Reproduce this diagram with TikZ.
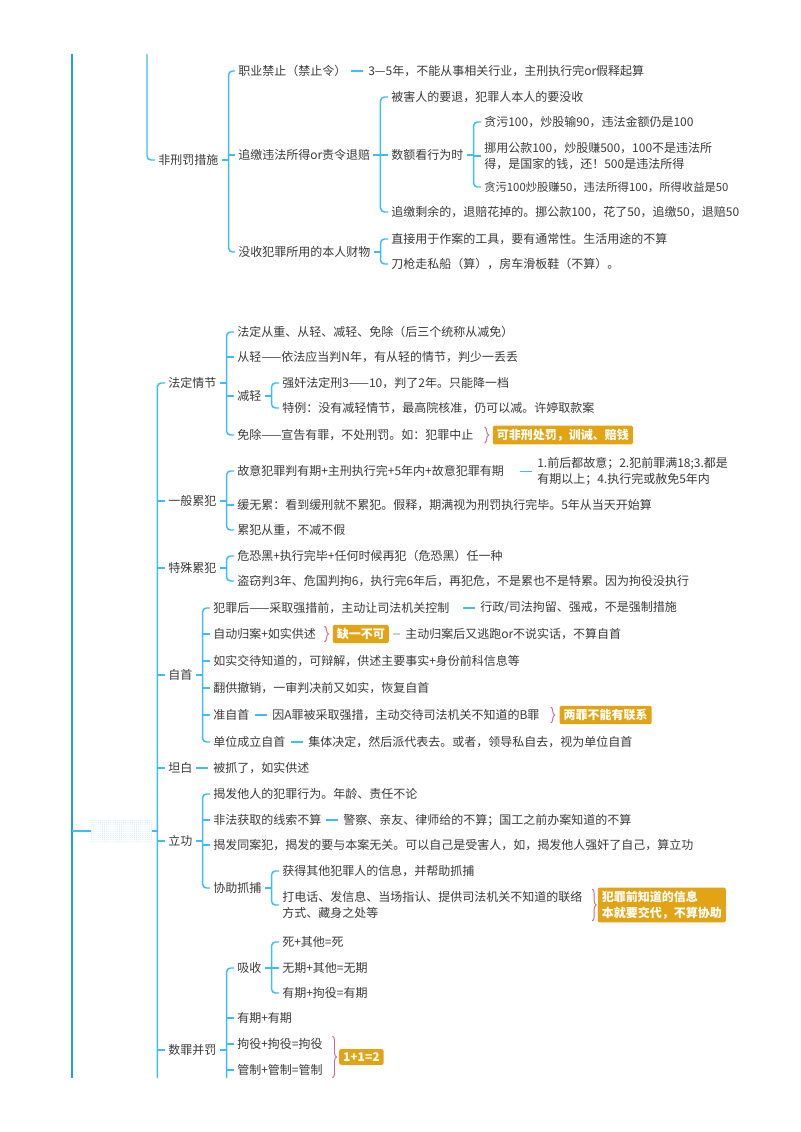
\documentclass[tikz,border=0pt]{standalone}
\usepackage{fontspec}
\setmainfont{Noto Sans CJK SC}
\usetikzlibrary{calc,decorations.pathreplacing,patterns.meta}
\definecolor{txt}{HTML}{3A3A3A}
\definecolor{lnk}{HTML}{3FBDF2}
\definecolor{lnkd}{HTML}{1E9FE3}
\definecolor{pinkb}{HTML}{D2678A}
\definecolor{gold}{HTML}{E2A415}
\definecolor{greyl}{HTML}{CFCFCF}
\definecolor{dotc}{HTML}{BFE8F8}
\newcommand{\forkm}[4]{%
  \draw[conn] (#1.east) -- ++(7,0) coordinate (#1-b);
  \draw[conn,rounded corners=3pt] (#2.west) -| (#1-b) |- (#3.west);
  \foreach \m in {#4}{\draw[conn] (#1-b |- \m.west) -- (\m.west);}
}
\newcommand{\forkt}[3]{%
  \draw[conn] (#1.east) -- ++(7,0) coordinate (#1-b);
  \draw[conn,rounded corners=3pt] (#2.west) -| (#1-b) |- (#3.west);
}
\newcommand{\inl}[2]{\draw[conn] ([xshift=-10.5pt]#2.west) -- ([xshift=-1.5pt]#2.west);}
\begin{document}
\begin{tikzpicture}[x=0.75pt,y=-0.75pt,
  t/.style={anchor=west,inner xsep=2.25pt,inner ysep=1.5pt,text=txt,font=\fontsize{9}{12}\selectfont,align=left},
  hl/.style={anchor=west,fill=gold,text=white,font=\bfseries\fontsize{9}{12}\selectfont,rounded corners=1.5pt,inner xsep=3pt,inner ysep=2.5pt,align=left},
  conn/.style={draw=lnk,line width=1.1pt},
  connd/.style={draw=lnkd,line width=1.5pt},
  brc/.style={draw=pinkb,line width=0.7pt,decorate,decoration={brace,amplitude=3pt}},
  ghost/.style={minimum width=45.75pt,minimum height=16.5pt,inner sep=0pt,pattern={Dots[distance=1.6pt,radius=0.35pt]},pattern color=dotc}]
\useasboundingbox (0,0) rectangle (800,1132);
\fill[white] (0,0) rectangle (800,1132);

% ---------- group 1 ----------
\node[t] (nf) at (155,160) {非刑罚措施};
\node[t] (zy) at (235,71) {职业禁止（禁止令）};
\node[t] (zyc) at (365,71) {3—5年，不能从事相关行业，主刑执行完or假释起算};
\node[t] (zj) at (235,155) {追缴违法所得or责令退赔};
\node[t] (bh) at (388,97) {被害人的要退，犯罪人本人的要没收};
\node[t] (se) at (388,155) {数额看行为时};
\node[t] (s1) at (481,122) {贪污100，炒股输90，违法金额仍是100};
\node[t] (s2) at (481,156) {挪用公款100，炒股赚500，100不是违法所\\得，是国家的钱，还！500是违法所得};
\node[t,font=\fontsize{8.5}{11}\selectfont] (s3) at (481,187) {贪污100炒股赚50，违法所得100，所得收益是50};
\node[t] (zs) at (388,212) {追缴剩余的，退赔花掉的。挪公款100，花了50，追缴50，退赔50};
\node[t] (ms) at (235,252) {没收犯罪所用的本人财物};
\node[t] (m1) at (388,239) {直接用于作案的工具，要有通常性。生活用途的不算};
\node[t] (m2) at (388,264) {刀枪走私船（算），房车滑板鞋（不算）。};

% ---------- group 2 ----------
\node[t] (fd) at (165,383) {法定情节};
\node[t] (f1) at (234,332) {法定从重、从轻、减轻、免除（后三个统称从减免）};
\node[t] (f2) at (234,357) {从轻——依法应当判N年，有从轻的情节，判少一丢丢};
\node[t] (jq) at (234,396) {减轻};
\node[t] (j1) at (279,383) {强奸法定刑3——10，判了2年。只能降一档};
\node[t] (j2) at (279,408) {特例：没有减轻情节，最高院核准，仍可以减。许婷取款案};
\node[t] (f4) at (234,435) {免除——宣告有罪，不处刑罚。如：犯罪中止};
\node[hl] (b1) at ([xshift=12pt]f4.east) {可非刑处罚，训诫、赔钱};

\node[t] (yb) at (165,501) {一般累犯};
\node[t] (y1) at (234,471) {故意犯罪判有期+主刑执行完+5年内+故意犯罪有期};
\node[t] (y1c) at (534,471.5) {1.前后都故意；2.犯前罪满18;3.都是\\有期以上；4.执行完或赦免5年内};
\node[t] (y2) at (234,505) {缓无累：看到缓刑就不累犯。假释，期满视为刑罚执行完毕。5年从当天开始算};
\node[t] (y3) at (234,530) {累犯从重，不减不假};

\node[t] (ts) at (165,568) {特殊累犯};
\node[t] (t1) at (234,556) {危恐黑+执行完毕+任何时候再犯（危恐黑）任一种};
\node[t] (t2) at (234,581) {盗窃判3年、危国判拘6，执行完6年后，再犯危，不是累也不是特累。因为拘役没执行};

\node[t] (zsh) at (165,675) {自首};
\node[t] (z1) at (210,608) {犯罪后——采取强措前，主动让司法机关控制};
\node[t] (z1c) at (477,608) {行政/司法拘留、强戒，不是强制措施};
\node[t] (z2) at (210,634) {自动归案+如实供述};
\node[hl] (b2) at ([xshift=10pt]z2.east) {缺一不可};
\node[t] (z2c) at (402,634) {主动归案后又逃跑or不说实话，不算自首};
\node[t] (z3) at (210,661) {如实交待知道的，可辩解，供述主要事实+身份前科信息等};
\node[t] (z4) at (210,688) {翻供撤销，一审判决前又如实，恢复自首};
\node[t] (z5) at (210,715) {准自首};
\node[t] (z5c) at (269,715) {因A罪被采取强措，主动交待司法机关不知道的B罪};
\node[hl] (b3) at ([xshift=12.5pt]z5c.east) {两罪不能有联系};
\node[t] (z6) at (210,742) {单位成立自首};
\node[t] (z6c) at (305,742) {集体决定，然后派代表去。或者，领导私自去，视为单位自首};

\node[t] (tb) at (165,768) {坦白};
\node[t] (tbc) at (210,768) {被抓了，如实供述};

\node[t] (lg) at (165,841) {立功};
\node[t] (l1) at (210,794) {揭发他人的犯罪行为。年龄、责任不论};
\node[t] (l2) at (210,820) {非法获取的线索不算};
\node[t] (l2c) at (340,820) {警察、亲友、律师给的不算；国工之前办案知道的不算};
\node[t] (l3) at (210,845) {揭发同案犯，揭发的要与本案无关。可以自己是受害人，如，揭发他人强奸了自己，算立功};
\node[t] (l4) at (210,888) {协助抓捕};
\node[t] (x1) at (279,871) {获得其他犯罪人的信息，并帮助抓捕};
\node[t] (x2) at (279,905) {打电话、发信息、当场指认、提供司法机关不知道的联络\\方式、藏身之处等};
\node[hl] (b4) at ([xshift=9pt]x2.east) {犯罪前知道的信息\\本就要交代，不算协助};

\node[t] (sz) at (165,1050) {数罪并罚};
\node[t] (xs) at (234,968) {吸收};
\node[t] (a1) at (279,942) {死+其他=死};
\node[t] (a2) at (279,968) {无期+其他=无期};
\node[t] (a3) at (279,993) {有期+拘役=有期};
\node[t] (q2) at (234,1018) {有期+有期};
\node[t] (q3) at (234,1044) {拘役+拘役=拘役};
\node[t] (q4) at (234,1070) {管制+管制=管制};
\node[hl] (b5) at ($($(q3.east)!0.5!(q4.east)$)+(13,0)$) {1+1=2};

% ---------- root / left lines ----------
\node[ghost] (root) at (121.5,831) {};
\coordinate (lt) at (72,54);
\coordinate (lb) at (72,1078);
\coordinate (ut) at (147,54);
\draw[connd] (lt) -- (lb);
\draw[conn] (lt |- root.west) -- (root.west);
\draw[conn] (root.east) -- ++(5,0) coordinate (root-b);
\draw[conn,rounded corners=3pt] (fd.west) -| (root-b |- lb);
\foreach \m in {yb,ts,zsh,tb,lg,sz}{\draw[conn] (root-b |- \m.west) -- (\m.west);}
\draw[conn,rounded corners=3pt] (ut) |- (nf.west);

% ---------- forks ----------
\forkm{nf}{zy}{ms}{zj}
\forkm{zj}{bh}{zs}{se}
\forkm{se}{s1}{s3}{s2}
\forkt{ms}{m1}{m2}
\forkm{fd}{f1}{f4}{f2,jq}
\forkt{jq}{j1}{j2}
\forkm{yb}{y1}{y3}{y2}
\forkt{ts}{t1}{t2}
\forkm{zsh}{z1}{z6}{z2,z3,z4,z5}
\forkm{lg}{l1}{l4}{l2,l3}
\forkt{l4}{x1}{x2}
\forkm{xs}{a1}{a3}{a2}
\draw[conn] (sz.east) -- ++(7,0) coordinate (sz-b);
\draw[conn,rounded corners=3pt] (xs.west) -| (sz-b |- lb);
\foreach \m in {q2,q3,q4}{\draw[conn] (sz-b |- \m.west) -- (\m.west);}

% ---------- inline links ----------
\inl{zy}{zyc}
\inl{y1}{y1c}
\inl{z1}{z1c}
\inl{z5}{z5c}
\inl{z6}{z6c}
\inl{tb}{tbc}
\inl{l2}{l2c}
\draw[draw=greyl,line width=1pt] ([xshift=3pt]b2.east) -- ([xshift=-1.5pt]z2c.west);

% ---------- braces ----------
\draw[brc] ([xshift=6pt]f4.north east) -- ([xshift=6pt]f4.south east);
\draw[brc] ([xshift=4pt]z2.north east) -- ([xshift=4pt]z2.south east);
\draw[brc] ([xshift=6pt]z5c.north east) -- ([xshift=6pt]z5c.south east);
\draw[brc] ([xshift=5pt]x2.north east) -- ([xshift=5pt]x2.south east);
\draw[brc] ([xshift=5pt]q3.north east) -- ([xshift=5pt]q3.north east |- q4.south east);
\end{tikzpicture}
\end{document}
